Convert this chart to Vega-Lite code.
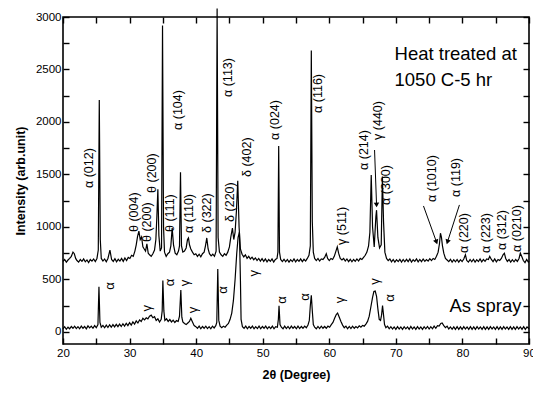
{
"$schema": "https://vega.github.io/schema/vega-lite/v6.json",
"width": 466, "height": 327,
"autosize": {"type": "none"},
"padding": {"left": 63, "top": 17, "right": 4, "bottom": 50},
"background": "white",
"config": {
  "font": "Liberation Sans",
  "view": {"stroke": "black", "strokeWidth": 1.6},
  "axis": {"domain": false, "offset": -6, "ticks": true, "tickColor": "black", "tickOpacity": 1, "tickWidth": 1.4, "tickSize": 6, "zindex": 1, "labelFont": "Liberation Sans", "labelFontSize": 11.5, "labelColor": "black", "grid": false, "titleFont": "Liberation Sans", "titleFontWeight": "bold", "titleFontSize": 12.5, "titleColor": "black"}
},
"datasets": {
"heat": [
{"x":20,"y":672},{"x":20.25,"y":690},{"x":20.5,"y":665},{"x":20.75,"y":685},{"x":21,"y":700},{"x":21.25,"y":720},{"x":21.5,"y":760},{"x":21.7,"y":745},{"x":21.9,"y":700},{"x":22.1,"y":680},{"x":22.35,"y":665},{"x":22.6,"y":690},{"x":22.85,"y":672},{"x":23.1,"y":695},{"x":23.35,"y":668},{"x":23.6,"y":686},{"x":23.85,"y":660},{"x":24.1,"y":690},{"x":24.35,"y":675},{"x":24.6,"y":695},{"x":24.85,"y":670},{"x":25.1,"y":700},{"x":25.3,"y":780},{"x":25.45,"y":2210},{"x":25.6,"y":880},{"x":25.75,"y":700},{"x":26,"y":675},{"x":26.25,"y":695},{"x":26.5,"y":668},{"x":26.75,"y":700},{"x":27.05,"y":780},{"x":27.3,"y":690},{"x":27.55,"y":672},{"x":27.8,"y":698},{"x":28.05,"y":668},{"x":28.3,"y":692},{"x":28.55,"y":675},{"x":28.8,"y":700},{"x":29.05,"y":672},{"x":29.3,"y":705},{"x":29.55,"y":680},{"x":29.8,"y":710},{"x":30.05,"y":700},{"x":30.3,"y":730},{"x":30.55,"y":720},{"x":30.8,"y":770},{"x":31,"y":830},{"x":31.2,"y":910},{"x":31.4,"y":960},{"x":31.6,"y":880},{"x":31.8,"y":905},{"x":32,"y":810},{"x":32.2,"y":790},{"x":32.4,"y":770},{"x":32.6,"y":840},{"x":32.8,"y":750},{"x":33,"y":735},{"x":33.25,"y":720},{"x":33.5,"y":745},{"x":33.75,"y":780},{"x":33.95,"y":880},{"x":34.1,"y":1100},{"x":34.25,"y":1360},{"x":34.4,"y":920},{"x":34.6,"y":770},{"x":34.8,"y":800},{"x":34.95,"y":2920},{"x":35.1,"y":1000},{"x":35.25,"y":760},{"x":35.5,"y":720},{"x":35.75,"y":745},{"x":36,"y":760},{"x":36.2,"y":820},{"x":36.4,"y":990},{"x":36.6,"y":830},{"x":36.85,"y":750},{"x":37.1,"y":735},{"x":37.35,"y":770},{"x":37.5,"y":820},{"x":37.65,"y":1520},{"x":37.8,"y":820},{"x":38,"y":760},{"x":38.25,"y":770},{"x":38.5,"y":800},{"x":38.7,"y":880},{"x":38.85,"y":895},{"x":39,"y":830},{"x":39.2,"y":790},{"x":39.45,"y":760},{"x":39.7,"y":735},{"x":39.95,"y":745},{"x":40.2,"y":720},{"x":40.45,"y":740},{"x":40.7,"y":715},{"x":40.95,"y":745},{"x":41.2,"y":760},{"x":41.4,"y":820},{"x":41.6,"y":895},{"x":41.8,"y":790},{"x":42,"y":745},{"x":42.25,"y":725},{"x":42.5,"y":740},{"x":42.75,"y":720},{"x":43,"y":770},{"x":43.15,"y":3080},{"x":43.3,"y":900},{"x":43.5,"y":760},{"x":43.75,"y":735},{"x":44,"y":720},{"x":44.25,"y":745},{"x":44.5,"y":730},{"x":44.75,"y":760},{"x":45,"y":810},{"x":45.2,"y":900},{"x":45.45,"y":990},{"x":45.65,"y":880},{"x":45.85,"y":950},{"x":46.05,"y":1150},{"x":46.25,"y":1440},{"x":46.45,"y":1000},{"x":46.65,"y":790},{"x":46.9,"y":740},{"x":47.15,"y":715},{"x":47.4,"y":735},{"x":47.65,"y":700},{"x":47.9,"y":720},{"x":48.15,"y":695},{"x":48.4,"y":712},{"x":48.65,"y":688},{"x":48.9,"y":705},{"x":49.15,"y":680},{"x":49.4,"y":700},{"x":49.65,"y":675},{"x":49.9,"y":698},{"x":50.15,"y":672},{"x":50.4,"y":695},{"x":50.65,"y":668},{"x":50.9,"y":690},{"x":51.15,"y":672},{"x":51.4,"y":695},{"x":51.65,"y":665},{"x":51.9,"y":690},{"x":52.15,"y":700},{"x":52.28,"y":760},{"x":52.4,"y":1770},{"x":52.52,"y":760},{"x":52.7,"y":690},{"x":52.95,"y":670},{"x":53.2,"y":692},{"x":53.45,"y":668},{"x":53.7,"y":690},{"x":53.95,"y":665},{"x":54.2,"y":688},{"x":54.45,"y":670},{"x":54.7,"y":695},{"x":54.95,"y":668},{"x":55.2,"y":690},{"x":55.45,"y":672},{"x":55.7,"y":696},{"x":55.95,"y":670},{"x":56.2,"y":692},{"x":56.45,"y":675},{"x":56.7,"y":700},{"x":56.95,"y":730},{"x":57.15,"y":820},{"x":57.3,"y":2680},{"x":57.45,"y":1050},{"x":57.6,"y":760},{"x":57.8,"y":700},{"x":58.05,"y":680},{"x":58.3,"y":700},{"x":58.55,"y":675},{"x":58.8,"y":695},{"x":59.05,"y":690},{"x":59.3,"y":710},{"x":59.55,"y":745},{"x":59.75,"y":700},{"x":60,"y":680},{"x":60.25,"y":700},{"x":60.5,"y":690},{"x":60.75,"y":720},{"x":61,"y":770},{"x":61.2,"y":810},{"x":61.4,"y":750},{"x":61.65,"y":700},{"x":61.9,"y":685},{"x":62.15,"y":700},{"x":62.4,"y":675},{"x":62.65,"y":695},{"x":62.9,"y":670},{"x":63.15,"y":692},{"x":63.4,"y":668},{"x":63.65,"y":690},{"x":63.9,"y":672},{"x":64.15,"y":695},{"x":64.4,"y":675},{"x":64.65,"y":700},{"x":64.9,"y":690},{"x":65.15,"y":710},{"x":65.4,"y":730},{"x":65.65,"y":760},{"x":65.9,"y":820},{"x":66.1,"y":950},{"x":66.3,"y":1495},{"x":66.5,"y":1000},{"x":66.75,"y":810},{"x":67,"y":1100},{"x":67.1,"y":1160},{"x":67.3,"y":900},{"x":67.55,"y":800},{"x":67.8,"y":830},{"x":67.98,"y":1480},{"x":68.15,"y":1050},{"x":68.35,"y":760},{"x":68.6,"y":700},{"x":68.85,"y":680},{"x":69.1,"y":695},{"x":69.35,"y":668},{"x":69.6,"y":690},{"x":69.85,"y":665},{"x":70.1,"y":688},{"x":70.35,"y":670},{"x":70.6,"y":692},{"x":70.85,"y":665},{"x":71.1,"y":690},{"x":71.35,"y":668},{"x":71.6,"y":692},{"x":71.85,"y":670},{"x":72.1,"y":695},{"x":72.35,"y":665},{"x":72.6,"y":688},{"x":72.85,"y":672},{"x":73.1,"y":695},{"x":73.35,"y":668},{"x":73.6,"y":690},{"x":73.85,"y":670},{"x":74.1,"y":695},{"x":74.35,"y":672},{"x":74.6,"y":690},{"x":74.85,"y":675},{"x":75.1,"y":698},{"x":75.35,"y":680},{"x":75.6,"y":700},{"x":75.85,"y":690},{"x":76.1,"y":720},{"x":76.35,"y":760},{"x":76.55,"y":840},{"x":76.7,"y":940},{"x":76.85,"y":900},{"x":77,"y":820},{"x":77.2,"y":750},{"x":77.45,"y":700},{"x":77.7,"y":685},{"x":77.95,"y":670},{"x":78.2,"y":692},{"x":78.45,"y":665},{"x":78.7,"y":688},{"x":78.95,"y":668},{"x":79.2,"y":690},{"x":79.45,"y":665},{"x":79.7,"y":688},{"x":79.95,"y":670},{"x":80.2,"y":695},{"x":80.45,"y":735},{"x":80.65,"y":680},{"x":80.9,"y":665},{"x":81.15,"y":690},{"x":81.4,"y":668},{"x":81.65,"y":692},{"x":81.9,"y":665},{"x":82.15,"y":688},{"x":82.4,"y":670},{"x":82.65,"y":695},{"x":82.9,"y":668},{"x":83.15,"y":690},{"x":83.4,"y":672},{"x":83.65,"y":695},{"x":83.9,"y":690},{"x":84.1,"y":720},{"x":84.35,"y":690},{"x":84.6,"y":670},{"x":84.85,"y":695},{"x":85.1,"y":668},{"x":85.35,"y":690},{"x":85.6,"y":680},{"x":85.85,"y":700},{"x":86.1,"y":735},{"x":86.3,"y":750},{"x":86.5,"y":700},{"x":86.75,"y":672},{"x":87,"y":690},{"x":87.25,"y":665},{"x":87.5,"y":688},{"x":87.75,"y":668},{"x":88,"y":690},{"x":88.25,"y":672},{"x":88.5,"y":700},{"x":88.7,"y":750},{"x":88.9,"y":720},{"x":89.15,"y":680},{"x":89.4,"y":660},{"x":89.65,"y":690},{"x":89.9,"y":665},{"x":90,"y":675}
],
"spray": [
{"x":20,"y":30},{"x":20.25,"y":50},{"x":20.5,"y":25},{"x":20.75,"y":45},{"x":21,"y":30},{"x":21.25,"y":52},{"x":21.5,"y":35},{"x":21.75,"y":55},{"x":22,"y":32},{"x":22.25,"y":50},{"x":22.5,"y":30},{"x":22.75,"y":55},{"x":23,"y":35},{"x":23.25,"y":52},{"x":23.5,"y":30},{"x":23.75,"y":58},{"x":24,"y":38},{"x":24.25,"y":55},{"x":24.5,"y":35},{"x":24.75,"y":60},{"x":25,"y":40},{"x":25.25,"y":70},{"x":25.4,"y":430},{"x":25.55,"y":90},{"x":25.75,"y":45},{"x":26,"y":62},{"x":26.25,"y":40},{"x":26.5,"y":65},{"x":26.75,"y":42},{"x":27,"y":68},{"x":27.25,"y":45},{"x":27.5,"y":70},{"x":27.75,"y":48},{"x":28,"y":72},{"x":28.25,"y":50},{"x":28.5,"y":75},{"x":28.75,"y":52},{"x":29,"y":78},{"x":29.25,"y":55},{"x":29.5,"y":82},{"x":29.75,"y":60},{"x":30,"y":88},{"x":30.25,"y":65},{"x":30.5,"y":95},{"x":30.75,"y":75},{"x":31,"y":105},{"x":31.25,"y":85},{"x":31.5,"y":115},{"x":31.75,"y":100},{"x":32,"y":130},{"x":32.25,"y":115},{"x":32.5,"y":135},{"x":32.75,"y":125},{"x":33,"y":150},{"x":33.25,"y":160},{"x":33.5,"y":135},{"x":33.75,"y":145},{"x":34,"y":110},{"x":34.25,"y":125},{"x":34.5,"y":95},{"x":34.75,"y":120},{"x":34.9,"y":200},{"x":35,"y":490},{"x":35.15,"y":200},{"x":35.3,"y":110},{"x":35.55,"y":125},{"x":35.8,"y":100},{"x":36.05,"y":118},{"x":36.3,"y":95},{"x":36.55,"y":112},{"x":36.8,"y":90},{"x":37.05,"y":108},{"x":37.3,"y":100},{"x":37.5,"y":150},{"x":37.7,"y":400},{"x":37.85,"y":140},{"x":38,"y":95},{"x":38.25,"y":80},{"x":38.5,"y":70},{"x":38.75,"y":85},{"x":39,"y":100},{"x":39.2,"y":130},{"x":39.45,"y":95},{"x":39.7,"y":60},{"x":39.95,"y":50},{"x":40.2,"y":35},{"x":40.45,"y":55},{"x":40.7,"y":30},{"x":40.95,"y":52},{"x":41.2,"y":35},{"x":41.45,"y":55},{"x":41.7,"y":32},{"x":41.95,"y":50},{"x":42.2,"y":30},{"x":42.45,"y":55},{"x":42.7,"y":38},{"x":42.95,"y":60},{"x":43.1,"y":90},{"x":43.25,"y":600},{"x":43.4,"y":110},{"x":43.6,"y":55},{"x":43.85,"y":40},{"x":44.1,"y":55},{"x":44.35,"y":45},{"x":44.6,"y":65},{"x":44.85,"y":80},{"x":45.1,"y":120},{"x":45.35,"y":180},{"x":45.6,"y":300},{"x":45.85,"y":500},{"x":46.1,"y":750},{"x":46.3,"y":900},{"x":46.5,"y":950},{"x":46.65,"y":500},{"x":46.75,"y":120},{"x":46.95,"y":50},{"x":47.2,"y":35},{"x":47.45,"y":55},{"x":47.7,"y":30},{"x":47.95,"y":52},{"x":48.2,"y":35},{"x":48.45,"y":55},{"x":48.7,"y":30},{"x":48.95,"y":50},{"x":49.2,"y":32},{"x":49.45,"y":55},{"x":49.7,"y":30},{"x":49.95,"y":52},{"x":50.2,"y":35},{"x":50.45,"y":55},{"x":50.7,"y":30},{"x":50.95,"y":50},{"x":51.2,"y":32},{"x":51.45,"y":55},{"x":51.7,"y":30},{"x":51.95,"y":50},{"x":52.2,"y":45},{"x":52.35,"y":120},{"x":52.45,"y":250},{"x":52.6,"y":70},{"x":52.8,"y":45},{"x":53.05,"y":30},{"x":53.3,"y":55},{"x":53.55,"y":32},{"x":53.8,"y":52},{"x":54.05,"y":30},{"x":54.3,"y":55},{"x":54.55,"y":35},{"x":54.8,"y":52},{"x":55.05,"y":30},{"x":55.3,"y":55},{"x":55.55,"y":32},{"x":55.8,"y":52},{"x":56.05,"y":35},{"x":56.3,"y":55},{"x":56.55,"y":40},{"x":56.8,"y":65},{"x":57,"y":110},{"x":57.15,"y":250},{"x":57.3,"y":350},{"x":57.45,"y":200},{"x":57.6,"y":70},{"x":57.8,"y":45},{"x":58.05,"y":30},{"x":58.3,"y":52},{"x":58.55,"y":32},{"x":58.8,"y":55},{"x":59.05,"y":35},{"x":59.3,"y":52},{"x":59.55,"y":35},{"x":59.8,"y":55},{"x":60.05,"y":45},{"x":60.3,"y":70},{"x":60.55,"y":90},{"x":60.8,"y":130},{"x":61.05,"y":165},{"x":61.25,"y":180},{"x":61.5,"y":140},{"x":61.75,"y":100},{"x":62,"y":65},{"x":62.25,"y":40},{"x":62.5,"y":55},{"x":62.75,"y":30},{"x":63,"y":52},{"x":63.25,"y":32},{"x":63.5,"y":55},{"x":63.75,"y":35},{"x":64,"y":52},{"x":64.25,"y":38},{"x":64.5,"y":58},{"x":64.75,"y":45},{"x":65,"y":62},{"x":65.25,"y":55},{"x":65.5,"y":75},{"x":65.75,"y":100},{"x":66,"y":150},{"x":66.25,"y":240},{"x":66.5,"y":330},{"x":66.7,"y":385},{"x":66.9,"y":390},{"x":67.1,"y":340},{"x":67.3,"y":220},{"x":67.5,"y":120},{"x":67.7,"y":110},{"x":67.85,"y":160},{"x":68,"y":250},{"x":68.15,"y":160},{"x":68.3,"y":70},{"x":68.5,"y":40},{"x":68.75,"y":55},{"x":69,"y":30},{"x":69.25,"y":50},{"x":69.5,"y":28},{"x":69.75,"y":48},{"x":70,"y":25},{"x":70.25,"y":50},{"x":70.5,"y":28},{"x":70.75,"y":48},{"x":71,"y":25},{"x":71.25,"y":50},{"x":71.5,"y":30},{"x":71.75,"y":48},{"x":72,"y":25},{"x":72.25,"y":52},{"x":72.5,"y":28},{"x":72.75,"y":48},{"x":73,"y":25},{"x":73.25,"y":50},{"x":73.5,"y":28},{"x":73.75,"y":48},{"x":74,"y":25},{"x":74.25,"y":50},{"x":74.5,"y":30},{"x":74.75,"y":52},{"x":75,"y":28},{"x":75.25,"y":50},{"x":75.5,"y":30},{"x":75.75,"y":55},{"x":76,"y":35},{"x":76.25,"y":60},{"x":76.5,"y":55},{"x":76.75,"y":80},{"x":76.95,"y":85},{"x":77.2,"y":60},{"x":77.45,"y":40},{"x":77.7,"y":55},{"x":77.95,"y":28},{"x":78.2,"y":48},{"x":78.45,"y":25},{"x":78.7,"y":48},{"x":78.95,"y":25},{"x":79.2,"y":50},{"x":79.45,"y":25},{"x":79.7,"y":48},{"x":79.95,"y":25},{"x":80.2,"y":50},{"x":80.45,"y":28},{"x":80.7,"y":48},{"x":80.95,"y":25},{"x":81.2,"y":50},{"x":81.45,"y":25},{"x":81.7,"y":48},{"x":81.95,"y":25},{"x":82.2,"y":50},{"x":82.45,"y":28},{"x":82.7,"y":48},{"x":82.95,"y":25},{"x":83.2,"y":50},{"x":83.45,"y":25},{"x":83.7,"y":48},{"x":83.95,"y":25},{"x":84.2,"y":50},{"x":84.45,"y":28},{"x":84.7,"y":48},{"x":84.95,"y":25},{"x":85.2,"y":50},{"x":85.45,"y":25},{"x":85.7,"y":48},{"x":85.95,"y":25},{"x":86.2,"y":50},{"x":86.45,"y":28},{"x":86.7,"y":48},{"x":86.95,"y":25},{"x":87.2,"y":50},{"x":87.45,"y":25},{"x":87.7,"y":48},{"x":87.95,"y":25},{"x":88.2,"y":50},{"x":88.45,"y":28},{"x":88.7,"y":48},{"x":88.95,"y":25},{"x":89.2,"y":50},{"x":89.45,"y":25},{"x":89.7,"y":48},{"x":90,"y":30}
],
"peaklabels": [
{"x":23.9,"y":1371,"t":"α (012)"},
{"x":30.65,"y":952,"t":"θ (004)"},
{"x":32.6,"y":857,"t":"θ (200)"},
{"x":33.4,"y":1324,"t":"θ (200)"},
{"x":37.25,"y":1924,"t":"α (104)"},
{"x":36.05,"y":952,"t":"θ (111)"},
{"x":38.9,"y":943,"t":"α (110)"},
{"x":41.6,"y":943,"t":"δ (322)"},
{"x":44.75,"y":2238,"t":"α (113)"},
{"x":45.05,"y":1048,"t":"δ (220)"},
{"x":47.6,"y":1476,"t":"δ (402)"},
{"x":51.8,"y":1829,"t":"α (024)"},
{"x":58.25,"y":2086,"t":"α (116)"},
{"x":61.85,"y":829,"t":"γ (511)"},
{"x":65.2,"y":1543,"t":"α (214)"},
{"x":67.25,"y":1829,"t":"γ (440)"},
{"x":68.45,"y":1210,"t":"α (300)"},
{"x":75.5,"y":1238,"t":"α (1010)"},
{"x":79.1,"y":1286,"t":"α (119)"},
{"x":80.3,"y":752,"t":"α (220)"},
{"x":83.6,"y":752,"t":"α (223)"},
{"x":86.0,"y":781,"t":"α (312)"},
{"x":88.25,"y":762,"t":"α (0210)"}
],
"phase": [
{"x":27.05,"y":438,"t":"α"},
{"x":32.6,"y":225,"t":"γ"},
{"x":36.1,"y":470,"t":"α"},
{"x":38.3,"y":467,"t":"γ"},
{"x":39.5,"y":210,"t":"γ"},
{"x":44.0,"y":400,"t":"α"},
{"x":48.7,"y":560,"t":"γ"},
{"x":52.85,"y":305,"t":"α"},
{"x":56.3,"y":333,"t":"α"},
{"x":61.55,"y":305,"t":"γ"},
{"x":66.8,"y":480,"t":"γ"},
{"x":69.05,"y":324,"t":"α"}
],
"notes": [
{"x":69.8,"y":2590,"t":"Heat treated at"},
{"x":69.8,"y":2343,"t":"1050 C-5 hr"},
{"x":78.05,"y":190,"t":"As spray"}
],
"arrows": [
{"x":66.8,"y":1733,"x2":67.1,"y2":1210,"a":-2},
{"x":74.15,"y":1200,"x2":76.1,"y2":857,"a":-20},
{"x":79.55,"y":1210,"x2":77.75,"y2":857,"a":18}
]
},
"resolve": {"axis": {"x": "independent", "y": "independent"}},
"layer": [
{
 "data": {"name": "heat"},
 "mark": {"type": "line", "color": "black", "strokeWidth": 1.2, "clip": false},
 "encoding": {
  "x": {"field": "x", "type": "quantitative", "scale": {"domain": [20, 90], "nice": false}, "axis": {"orient": "bottom", "title": "2θ (Degree)", "values": [20,25,30,35,40,45,50,55,60,65,70,75,80,85,90], "labelExpr": "datum.value % 10 == 0 ? datum.label : ''", "labelPadding": 3, "titlePadding": 10, "labelFlush": false}},
  "y": {"field": "y", "type": "quantitative", "scale": {"domain": [-115, 3000], "nice": false, "zero": false}, "axis": {"orient": "left", "title": "Intensity (arb.unit)", "values": [0,250,500,750,1000,1250,1500,1750,2000,2250,2500,2750,3000], "format": "d", "labelExpr": "datum.value % 500 == 0 ? datum.label : ''", "labelPadding": 2, "titlePadding": 8, "labelFlush": false}}
 }
},
{
 "data": {"name": "spray"},
 "mark": {"type": "line", "color": "black", "strokeWidth": 1.2},
 "encoding": {
  "x": {"field": "x", "type": "quantitative", "scale": {"domain": [20, 90], "nice": false}, "axis": {"orient": "top", "title": null, "labels": false, "values": [20,25,30,35,40,45,50,55,60,65,70,75,80,85,90]}},
  "y": {"field": "y", "type": "quantitative", "scale": {"domain": [-115, 3000], "nice": false, "zero": false}, "axis": {"orient": "right", "title": null, "labels": false, "values": [0,250,500,750,1000,1250,1500,1750,2000,2250,2500,2750,3000]}}
 }
},
{
 "data": {"name": "peaklabels"},
 "mark": {"type": "text", "angle": 270, "align": "left", "baseline": "middle", "fontSize": 12.5, "font": "Liberation Sans", "color": "black"},
 "encoding": {
  "x": {"field": "x", "type": "quantitative", "axis": null},
  "y": {"field": "y", "type": "quantitative", "axis": null},
  "text": {"field": "t"}
 }
},
{
 "data": {"name": "phase"},
 "mark": {"type": "text", "angle": 270, "align": "center", "baseline": "middle", "fontSize": 13, "font": "Liberation Sans", "color": "black"},
 "encoding": {
  "x": {"field": "x", "type": "quantitative", "axis": null},
  "y": {"field": "y", "type": "quantitative", "axis": null},
  "text": {"field": "t"}
 }
},
{
 "data": {"name": "notes"},
 "mark": {"type": "text", "align": "left", "baseline": "alphabetic", "fontSize": 18.5, "font": "Liberation Sans", "color": "black", "letterSpacing": -0.9},
 "encoding": {
  "x": {"field": "x", "type": "quantitative", "axis": null},
  "y": {"field": "y", "type": "quantitative", "axis": null},
  "text": {"field": "t"}
 }
},
{
 "data": {"name": "arrows"},
 "mark": {"type": "rule", "color": "black", "strokeWidth": 1},
 "encoding": {
  "x": {"field": "x", "type": "quantitative", "axis": null},
  "y": {"field": "y", "type": "quantitative", "axis": null},
  "x2": {"field": "x2"},
  "y2": {"field": "y2"}
 }
},
{
 "data": {"name": "arrows"},
 "mark": {"type": "point", "shape": "triangle-down", "filled": true, "color": "black", "size": 30, "opacity": 1},
 "encoding": {
  "x": {"field": "x2", "type": "quantitative", "axis": null},
  "y": {"field": "y2", "type": "quantitative", "axis": null},
  "angle": {"field": "a", "type": "quantitative", "scale": null}
 }
}
]
}
